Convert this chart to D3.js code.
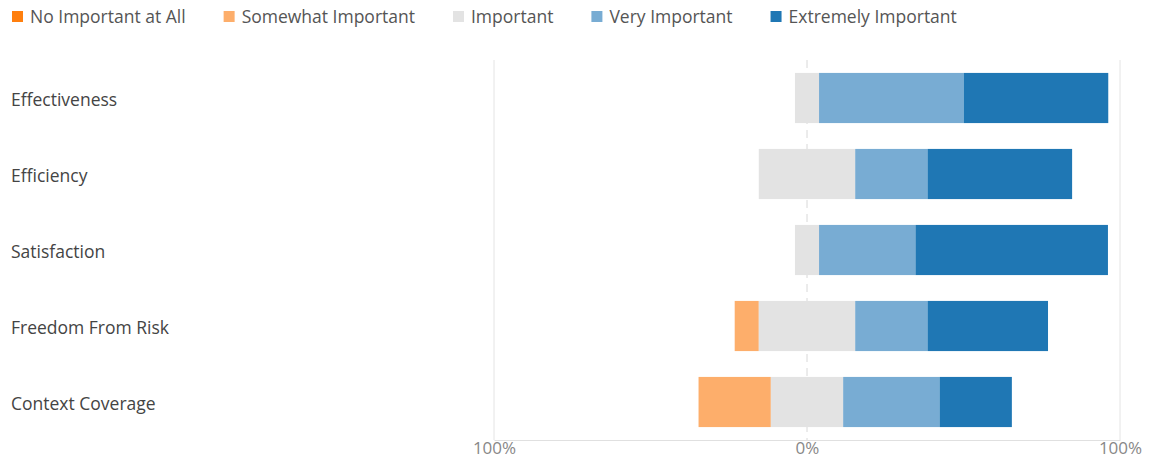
<!DOCTYPE html>
<html><head><meta charset="utf-8">
<script src="https://cdn.jsdelivr.net/npm/d3@7"></script>
<style>
body{margin:0;background:#fff;}
text{font-family:"Open Sans","Noto Sans",sans-serif;}
</style></head>
<body>
<svg id="c" width="1151" height="460"></svg>
<script>
const categories = ["Effectiveness","Efficiency","Satisfaction","Freedom From Risk","Context Coverage"];
const seriesNames = ["No Important at All","Somewhat Important","Important","Very Important","Extremely Important"];
const noImportant   = [0, 0, 0, 0, 0];
const somewhat      = [0, 0, 0, 7.7, 23.1];
const important     = [7.7, 30.8, 7.7, 30.8, 23.1];
const veryImportant = [46.2, 23.1, 30.8, 23.1, 30.8];
const extremely     = [46.2, 46.2, 61.5, 38.5, 23.1];
const tickValues = [-100, 0, 100];
const tickLabels = ["100%", "0%", "100%"];
const colors = ["#ff7f0e","#fdae6b","#e3e3e3","#78acd3","#1f77b4"];

const svg = d3.select("#c");
const x = d3.scaleLinear().domain([-100,100]).range([494,1120]);
const y = d3.scaleBand().domain(categories).range([60,440]).paddingInner(0.34).paddingOuter(0.17);

// grid
const g = svg.append("g");
tickValues.forEach(v=>{
  g.append("line").attr("x1",x(v)).attr("x2",x(v)).attr("y1",60).attr("y2",440)
   .attr("stroke", v===0 ? "#d8d8d8" : "#e4e4e4").attr("stroke-width",1)
   .attr("stroke-dasharray", v===0 ? "8,6" : null);
});
// baseline axis
const ax = svg.append("g").attr("transform","translate(0,440)")
  .call(d3.axisBottom(x).tickValues(tickValues).tickSize(0).tickFormat((d,i)=>tickLabels[i]));
ax.select(".domain").attr("stroke","#e0e0e0");
ax.selectAll("text").attr("fill","#888").attr("font-size","17px").attr("dy","0.66em")
  .attr("font-family","'Open Sans','Noto Sans',sans-serif");

// bars
const seriesData = [noImportant, somewhat, important, veryImportant, extremely];
categories.forEach((cat,i)=>{
  let start = -(noImportant[i] + somewhat[i] + important[i]/2);
  seriesData.forEach((arr,s)=>{
    const v = arr[i];
    if(v>0){
      svg.append("rect").attr("x",x(start)).attr("width",x(start+v)-x(start))
        .attr("y",y(cat)).attr("height",y.bandwidth()).attr("fill",colors[s]);
    }
    start += v;
  });
});

// category labels
svg.append("g").selectAll("text").data(categories).join("text")
  .attr("x",11).attr("y",d=>y(d)+y.bandwidth()/2).attr("dy","0.48em")
  .attr("font-size","17.5px").attr("fill","#444").text(d=>d);

// legend
let lx = 12;
const leg = svg.append("g");
seriesNames.forEach((n,i)=>{
  leg.append("rect").attr("x",lx).attr("y",11).attr("width",11).attr("height",11).attr("fill",colors[i]);
  const t = leg.append("text").attr("x",lx+18).attr("y",17).attr("dy","0.35em")
    .attr("font-size","17.5px").attr("fill","#555").text(n);
  lx += 18 + t.node().getComputedTextLength() + 38;
});
</script>
</body></html>
